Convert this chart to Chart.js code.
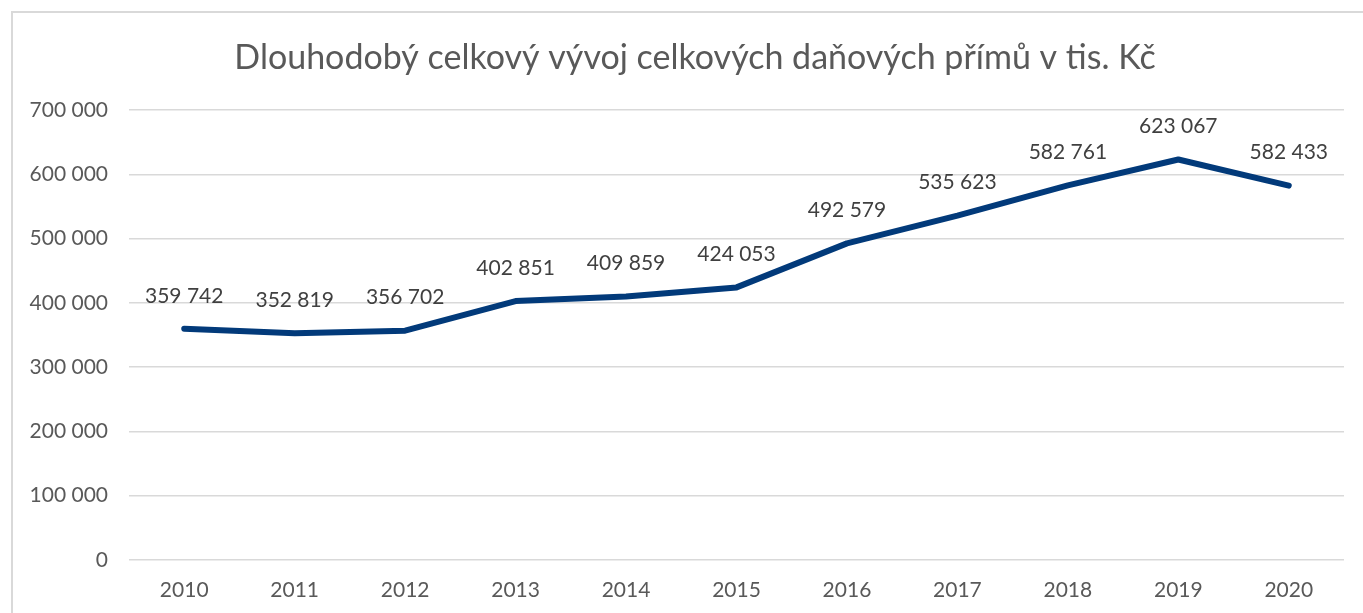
<!DOCTYPE html>
<html lang="cs">
<head>
    <meta charset="UTF-8">
    <title>Dlouhodobý vývoj daňových příjmů</title>
    <script src="https://cdn.jsdelivr.net/npm/chart.js"></script>
    <style>
        body { margin: 0; background: #fff; }
        .wrap { position: relative; width: 1363px; height: 613px; overflow: hidden; }
        .frame {
            position: absolute; left: 11px; top: 11px; width: 1400px; height: 700px;
            border-left: 2px solid #d9d9d9; border-top: 2px solid #d9d9d9;
        }
        canvas { position: absolute; left: 0; top: 0; }
    </style>
</head>
<body>
<div class="wrap">
    <div class="frame"></div>
    <canvas id="chart" width="1363" height="613"></canvas>
</div>
<script>
    const years = ["2010", "2011", "2012", "2013", "2014", "2015", "2016", "2017", "2018", "2019", "2020"];
    const income = [359742, 352819, 356702, 402851, 409859, 424053, 492579, 535623, 582761, 623067, 582433];
    const chartTitle = "Dlouhodobý celkový vývoj celkových daňových přímů v tis. Kč";

    const FONT = "Lato, 'Open Sans', sans-serif";

    function fmt(v) {
        return String(v).replace(/\B(?=(\d{3})+(?!\d))/g, " ");
    }

    // labels above each point, Excel style
    const valueLabels = {
        id: "valueLabels",
        afterDatasetsDraw(chart) {
            const ctx = chart.ctx;
            const meta = chart.getDatasetMeta(0);
            ctx.save();
            ctx.font = "21px " + FONT;
            ctx.fillStyle = "#404040";
            ctx.textAlign = "center";
            ctx.textBaseline = "middle";
            meta.data.forEach((pt, i) => {
                ctx.fillText(fmt(income[i]), pt.x, pt.y - 33);
            });
            ctx.restore();
        }
    };

    // title centred on the outer frame, not on the padded chart box
    const frameTitle = {
        id: "frameTitle",
        afterDraw(chart) {
            const ctx = chart.ctx;
            ctx.save();
            ctx.font = "34px " + FONT;
            ctx.fillStyle = "#595959";
            ctx.textAlign = "center";
            ctx.textBaseline = "middle";
            ctx.fillText(chartTitle, 695, 58);
            ctx.restore();
        }
    };

    new Chart(document.getElementById("chart"), {
        type: "line",
        data: {
            labels: years,
            datasets: [{
                data: income,
                borderColor: "#023a7a",
                borderWidth: 6,
                pointRadius: 0,
                tension: 0,
                borderCapStyle: "round",
                borderJoinStyle: "round",
                fill: false
            }]
        },
        options: {
            responsive: false,
            animation: false,
            layout: { padding: { top: 110, left: 20, right: 19, bottom: 0 } },
            plugins: {
                legend: { display: false },
                tooltip: { enabled: false },
                title: { display: false }
            },
            scales: {
                x: {
                    offset: true,
                    grid: { display: false },
                    border: { display: false },
                    ticks: { color: "#595959", font: { family: FONT, size: 21 }, padding: 10, maxRotation: 0 },
                    afterFit(scale) { scale.height = 53; }
                },
                y: {
                    min: 0,
                    max: 700000,
                    ticks: {
                        stepSize: 100000,
                        color: "#595959",
                        font: { family: FONT, size: 21 },
                        padding: 21,
                        callback: v => fmt(v)
                    },
                    grid: { color: "#d9d9d9", lineWidth: 1.5, drawTicks: false },
                    border: { display: false },
                    afterFit(scale) { scale.width = 109; }
                }
            }
        },
        plugins: [valueLabels, frameTitle]
    });
</script>
</body>
</html>
